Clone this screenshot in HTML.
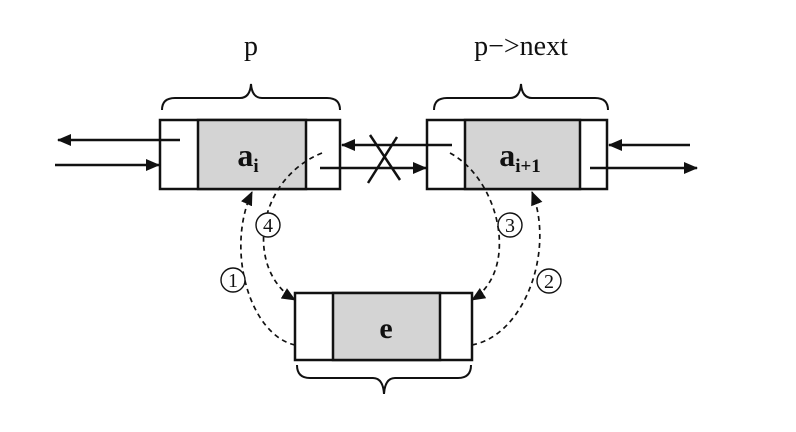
<!DOCTYPE html>
<html><head><style>body{margin:0;background:#fff}svg{display:block}</style></head><body>
<svg width="796" height="432" viewBox="0 0 796 432" xmlns="http://www.w3.org/2000/svg" font-family="Liberation Serif, serif">
<defs>
<marker id="a" markerWidth="14" markerHeight="12" refX="13" refY="6" orient="auto" markerUnits="userSpaceOnUse"><path d="M0,0 L14,6 L0,12 Z" fill="#111"/></marker>
</defs>
<g stroke="#111" stroke-width="2.5" fill="#fff">
<rect x="160" y="120" width="180" height="69"/>
<rect x="198" y="120" width="108" height="69" fill="#d4d4d4"/>
<rect x="427" y="120" width="180" height="69"/>
<rect x="465" y="120" width="115" height="69" fill="#d4d4d4"/>
<rect x="295" y="293" width="177" height="67"/>
<rect x="333" y="293" width="107" height="67" fill="#d4d4d4"/>
</g>
<g fill="none" stroke="#111" stroke-width="2">
<path d="M162,110 Q162,98 175,98 L240,98 Q250,98 251,84 Q252,98 262,98 L327,98 Q340,98 340,110"/>
<path d="M434,110 Q434,98 447,98 L510,98 Q520,98 521,84 Q522,98 532,98 L595,98 Q608,98 608,110"/>
<path d="M297,365 Q297,378 310,378 L373,378 Q383,378 384,394 Q385,378 395,378 L458,378 Q471,378 471,365"/>
</g>
<g stroke="#111" stroke-width="2.5" fill="none" marker-end="url(#a)">
<line x1="180" y1="140" x2="58" y2="140"/>
<line x1="55" y1="165" x2="159" y2="165"/>
<line x1="320" y1="168" x2="426" y2="168"/>
<line x1="452" y1="145" x2="342" y2="145"/>
<line x1="690" y1="145" x2="609" y2="145"/>
<line x1="590" y1="168" x2="697" y2="168"/>
</g>
<g stroke="#111" stroke-width="2.5">
<line x1="370" y1="135" x2="400" y2="180"/>
<line x1="397" y1="137" x2="368" y2="183"/>
</g>
<g stroke="#111" stroke-width="1.7" fill="none" stroke-dasharray="5,4" marker-end="url(#a)">
<path d="M295,345 C250,335 225,250 252,192"/>
<path d="M322,153 C255,180 245,270 295,300"/>
<path d="M450,153 C500,180 520,270 472,300"/>
<path d="M472,345 C525,335 555,250 532,192"/>
</g>
<g fill="#111" text-anchor="middle" font-weight="bold">
<text x="251" y="55" font-size="28" font-weight="normal">p</text>
<text x="521" y="55" font-size="28" font-weight="normal">p−&gt;next</text>
<text x="248" y="166" font-size="32">a<tspan font-size="19" dy="6">i</tspan></text>
<text x="520" y="166" font-size="32">a<tspan font-size="19" dy="6">i+1</tspan></text>
<text x="386" y="338" font-size="30">e</text>
</g>
<g fill="#fff" stroke="#111" stroke-width="1.4">
<circle cx="233" cy="280" r="12"/><circle cx="268" cy="225" r="12"/>
<circle cx="510" cy="225" r="12"/><circle cx="549" cy="281" r="12"/>
</g>
<g font-size="20" fill="#111" text-anchor="middle">
<text x="233" y="287">1</text><text x="268" y="232">4</text>
<text x="510" y="232">3</text><text x="549" y="288">2</text>
</g>
</svg>
</body></html>
